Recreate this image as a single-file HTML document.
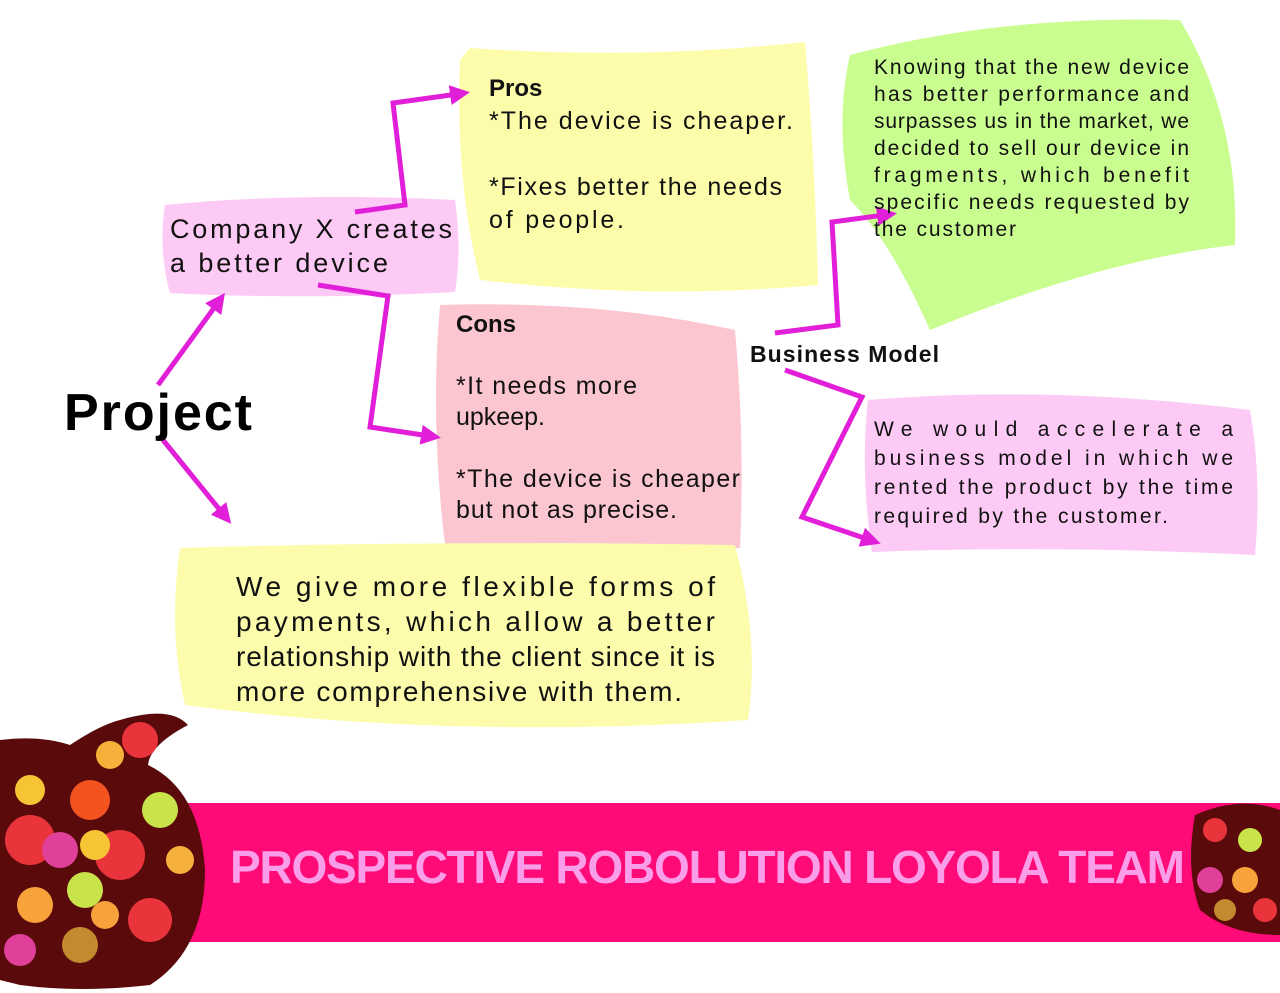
<!DOCTYPE html>
<html><head><meta charset="utf-8"><style>
html,body{margin:0;padding:0;background:#fff;}
svg{display:block;font-family:"Liberation Sans",sans-serif;}
</style></head><body>
<svg width="1280" height="993" viewBox="0 0 1280 993" xmlns="http://www.w3.org/2000/svg">
<defs><marker id="a" markerWidth="4" markerHeight="4" refX="3" refY="2" orient="auto" markerUnits="strokeWidth"><path d="M0,0 L4,2 L0,4 z" fill="#e21fd8"/></marker></defs>
<path d="M470,48 Q640,60 805,42 Q815,160 818,285 Q650,300 480,280 Q455,180 460,60 z" fill="#fdfcab"/>
<path d="M165,205 Q300,192 455,200 Q462,250 455,292 Q300,300 170,293 Q158,250 165,205 z" fill="#fdc9f5"/>
<path d="M440,305 Q600,300 735,330 Q745,440 740,548 Q600,540 445,545 Q430,420 440,305 z" fill="#fcc6d0"/>
<path d="M180,548 Q450,540 735,545 Q760,640 748,720 Q450,740 185,705 Q168,630 180,548 z" fill="#fcfcac"/>
<path d="M850,55 Q1000,15 1180,20 Q1240,120 1235,245 Q1100,260 930,330 Q890,240 850,200 Q835,120 850,55 z" fill="#cafd8f"/>
<path d="M868,400 Q1050,385 1250,410 Q1262,480 1255,555 Q1050,545 872,552 Q860,470 868,400 z" fill="#fccaf5"/>
<g stroke="#e21fd8" stroke-width="5" fill="none" marker-end="url(#a)">
<line x1="158" y1="385" x2="222" y2="297"/>
<line x1="163" y1="440" x2="228" y2="520"/>
<polyline points="355,212 405,205 393,103 465,93"/>
<polyline points="318,285 388,296 370,427 436,437"/>
<polyline points="775,333 838,325 832,222 892,214"/>
<polyline points="785,370 862,397 802,517 876,542"/>
</g>
<text x="64" y="430" font-size="52" font-weight="bold" fill="#000" textLength="188">Project</text>
<g font-size="27" fill="#111"><text x="170" y="238" textLength="282">Company X creates</text><text x="170" y="272" textLength="218">a better device</text></g>
<g font-size="25" fill="#111">
<text x="489" y="96" font-weight="bold" font-size="24">Pros</text>
<text x="489" y="129" textLength="304">*The device is cheaper.</text>
<text x="489" y="195" textLength="293">*Fixes better the needs</text>
<text x="489" y="228" textLength="135">of people.</text>
<text x="456" y="332" font-weight="bold" font-size="24">Cons</text>
<text x="456" y="394" textLength="181">*It needs more</text>
<text x="456" y="425">upkeep.</text>
<text x="456" y="487" textLength="284">*The device is cheaper</text>
<text x="456" y="518" textLength="221">but not as precise.</text>
</g>
<text x="750" y="362" font-size="23" font-weight="bold" fill="#111" textLength="189">Business Model</text>
<g font-size="21" fill="#111">
<text x="874" y="74" textLength="315">Knowing that the new device</text>
<text x="874" y="101" textLength="315">has better performance and</text>
<text x="874" y="128" textLength="315">surpasses us in the market, we</text>
<text x="874" y="155" textLength="315">decided to sell our device in</text>
<text x="874" y="182" textLength="315">fragments, which benefit</text>
<text x="874" y="209" textLength="315">specific needs requested by</text>
<text x="874" y="236" textLength="142">the customer</text>
<text x="874" y="436" textLength="359">We would accelerate a</text>
<text x="874" y="465" textLength="359">business model in which we</text>
<text x="874" y="494" textLength="359">rented the product by the time</text>
<text x="874" y="523" textLength="294">required by the customer.</text>
</g>
<g font-size="28" fill="#111">
<text x="236" y="596" textLength="479">We give more flexible forms of</text>
<text x="236" y="631" textLength="479">payments, which allow a better</text>
<text x="236" y="666" textLength="479">relationship with the client since it is</text>
<text x="236" y="701" textLength="446">more comprehensive with them.</text>
</g>
<rect x="160" y="803" width="1120" height="139" fill="#fe0b78"/>
<text x="230" y="883" font-size="46" font-weight="bold" fill="#fa9eea" textLength="955">PROSPECTIVE ROBOLUTION LOYOLA TEAM</text>
<path d="M0,740 Q40,735 70,745 Q100,725 120,720 Q170,705 188,725 Q150,745 148,765 Q200,790 205,870 Q205,950 150,985 Q80,993 20,985 L0,980 z" fill="#5a0a0a"/>
<g>
<circle cx="90" cy="800" r="20" fill="#f2531f"/><circle cx="160" cy="810" r="18" fill="#c9e34a"/>
<circle cx="30" cy="840" r="25" fill="#e8343a"/><circle cx="120" cy="855" r="25" fill="#e8343a"/>
<circle cx="60" cy="850" r="18" fill="#e0409a"/><circle cx="95" cy="845" r="15" fill="#f6c434"/>
<circle cx="35" cy="905" r="18" fill="#f7a23a"/><circle cx="85" cy="890" r="18" fill="#c9e34a"/>
<circle cx="80" cy="945" r="18" fill="#c48a2f"/><circle cx="150" cy="920" r="22" fill="#e8343a"/>
<circle cx="105" cy="915" r="14" fill="#f7a23a"/><circle cx="140" cy="740" r="18" fill="#e8343a"/>
<circle cx="30" cy="790" r="15" fill="#f6c434"/><circle cx="20" cy="950" r="16" fill="#e0409a"/>
<circle cx="180" cy="860" r="14" fill="#f6b13a"/><circle cx="110" cy="755" r="14" fill="#f6b13a"/>
</g>
<g>
<path d="M1195,815 Q1240,795 1280,810 L1280,935 Q1230,935 1200,910 Q1185,870 1195,815 z" fill="#5a0a0a"/>
<circle cx="1215" cy="830" r="12" fill="#e8343a"/><circle cx="1250" cy="840" r="12" fill="#c9e34a"/>
<circle cx="1210" cy="880" r="13" fill="#e0409a"/><circle cx="1245" cy="880" r="13" fill="#f7a23a"/>
<circle cx="1225" cy="910" r="11" fill="#c48a2f"/><circle cx="1265" cy="910" r="12" fill="#e8343a"/>
</g>
</svg>
</body></html>
